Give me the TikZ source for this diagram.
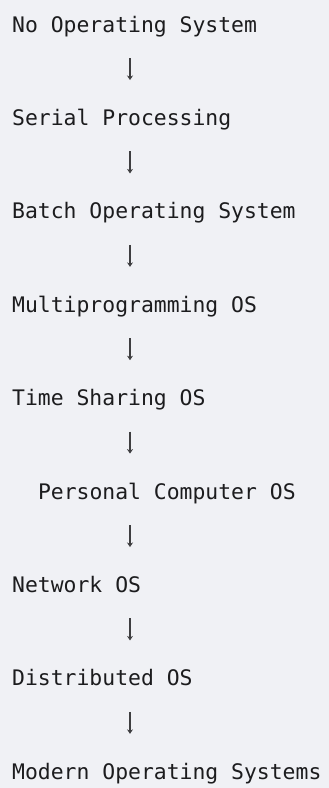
\documentclass[tikz,border=0pt]{standalone}
\usepackage{fontspec}
\setmonofont{DejaVu Sans Mono}
\usetikzlibrary{arrows.meta}

\definecolor{paper}{HTML}{F0F1F5}
\definecolor{ink}{HTML}{1C1C1E}

\begin{document}
\begin{tikzpicture}[x=1pt,y=-1pt,
  stage/.style={anchor=base west,inner sep=0pt,text=ink,
    font=\ttfamily\fontsize{21.4pt}{26pt}\selectfont},
  flow/.style={draw=ink!85,line width=1.2pt,shorten <=26pt,shorten >=45.4pt,
    -{Stealth[length=4.5pt,width=6pt]}}]
\fill[paper] (0,0) rectangle (329,788);
\coordinate (ax) at (130,0);

\foreach \i/\t/\dx in {0/No Operating System/0,1/Serial Processing/0,
  2/Batch Operating System/0,3/Multiprogramming OS/0,4/Time Sharing OS/0,
  5/Personal Computer OS/25.8,6/Network OS/0,7/Distributed OS/0,
  8/Modern Operating Systems/0} {
  \node[stage] (n\i) at (12+\dx,32+93.4*\i) {\t};
}

\foreach \i in {0,...,7} {
  \pgfmathtruncatemacro{\j}{\i+1}
  \draw[flow] (n\i.base -| ax) -- (n\j.base -| ax);
}
\end{tikzpicture}
\end{document}
